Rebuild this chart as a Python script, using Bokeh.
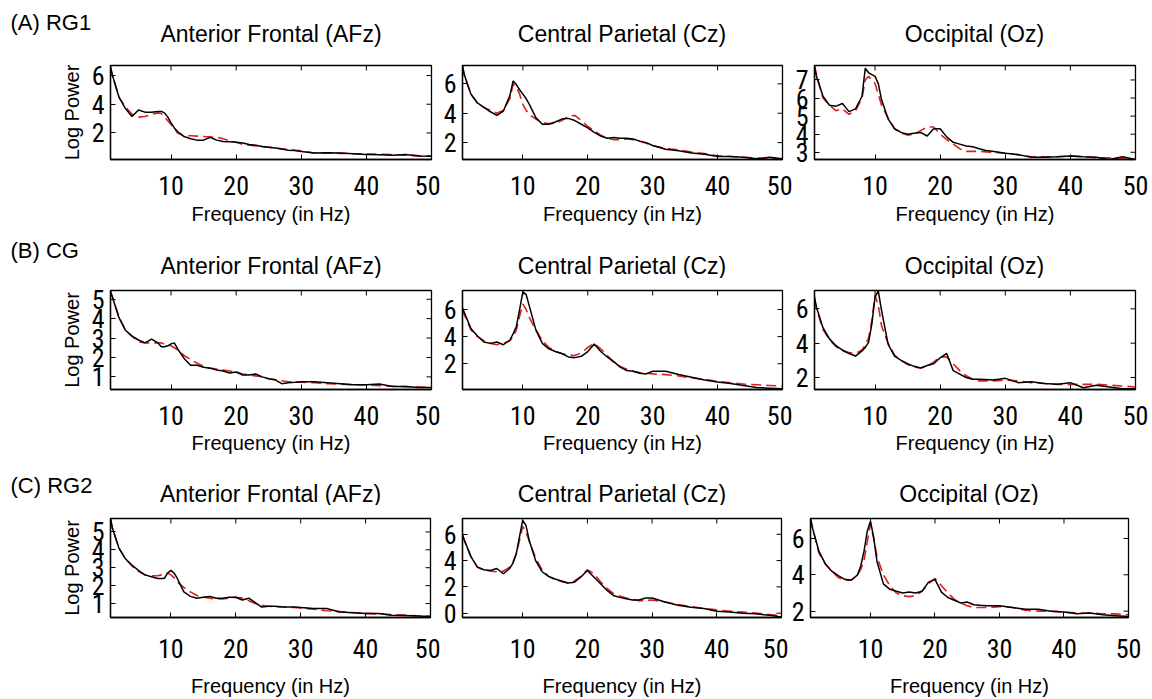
import math
from bokeh.plotting import figure
from bokeh.models import Range1d, FixedTicker, Label
from bokeh.layouts import column, row
from bokeh.embed import file_html
from bokeh.resources import INLINE

# ---------------- data ----------------
FREQ = [0.7, 1, 2, 3, 4, 5, 6, 7, 8, 8.5, 9, 9.5, 10, 10.5, 11, 12, 13, 14, 15, 16, 17, 18, 19, 20,
        21, 22, 23, 24, 25, 26, 27, 28, 29, 30, 32, 34, 36, 38, 40, 42, 44, 46, 48, 50]
X_LIMITS = (0.7, 50)
X_TICKS = [10, 20, 30, 40, 50]

GROUPS = ["(A) RG1", "(B) CG", "(C) RG2"]
SITES = ["Anterior Frontal (AFz)", "Central Parietal (Cz)", "Occipital (Oz)"]

# RG1
rg1_afz_obs = [6.6, 6.0, 4.5, 3.7, 3.15, 3.6, 3.45, 3.45, 3.5, 3.5, 3.4, 3.1, 2.7, 2.35, 2.1, 1.75, 1.6, 1.5, 1.5, 1.7,
               1.5, 1.4, 1.38, 1.35, 1.3, 1.2, 1.15, 1.05, 1.0, 0.95, 0.88, 0.8, 0.78, 0.7, 0.6, 0.62, 0.6, 0.55,
               0.5, 0.48, 0.45, 0.5, 0.4, 0.38]
rg1_afz_fit = [6.6, 6.0, 4.5, 3.8, 3.3, 3.1, 3.15, 3.3, 3.4, 3.35, 3.1, 2.85, 2.6, 2.3, 2.0, 1.8, 1.8, 1.78, 1.75,
               1.72, 1.7, 1.6, 1.45, 1.35, 1.2, 1.15, 1.1, 1.05, 1.0, 0.95, 0.9, 0.85, 0.8, 0.75, 0.6, 0.6, 0.58,
               0.55, 0.55, 0.52, 0.5, 0.45, 0.42, 0.4]
rg1_cz_obs = [7.2, 6.6, 5.3, 4.7, 4.4, 4.1, 3.85, 4.15, 5.2, 6.2, 5.95, 5.6, 5.3, 5.0, 4.6, 3.7, 3.25, 3.25, 3.4, 3.6,
              3.65, 3.5, 3.25, 3.0, 2.7, 2.45, 2.3, 2.35, 2.3, 2.3, 2.25, 2.1, 2.0, 1.8, 1.55, 1.45, 1.3, 1.2, 1.05,
              1.05, 1.0, 0.9, 1.0, 0.9]
rg1_cz_fit = [7.2, 6.5, 5.3, 4.7, 4.4, 4.2, 4.0, 4.2, 5.0, 6.0, 5.8, 5.3, 4.6, 4.2, 3.9, 3.6, 3.35, 3.3, 3.3, 3.5,
              3.8, 3.85, 3.5, 3.1, 2.8, 2.5, 2.3, 2.2, 2.2, 2.25, 2.2, 2.1, 1.95, 1.8, 1.6, 1.5, 1.35, 1.25, 1.1,
              1.05, 1.0, 0.95, 0.9, 0.9]
rg1_oz_obs = [7.75, 7.2, 6.1, 5.6, 5.55, 5.7, 5.25, 5.4, 6.1, 7.65, 7.4, 7.3, 7.2, 6.8, 5.9, 4.85, 4.3, 4.1, 4.0,
              4.05, 4.1, 3.9, 4.3, 4.3, 3.85, 3.55, 3.45, 3.35, 3.3, 3.2, 3.1, 3.05, 3.0, 2.95, 2.87, 2.72, 2.72,
              2.75, 2.8, 2.75, 2.72, 2.6, 2.75, 2.6]
rg1_oz_fit = [7.8, 7.3, 6.0, 5.6, 5.3, 5.4, 5.1, 5.3, 6.0, 7.0, 7.2, 7.0, 6.8, 6.2, 5.6, 4.9, 4.3, 4.05, 3.95, 4.0,
              4.2, 4.4, 4.4, 4.0, 3.7, 3.45, 3.2, 3.05, 3.05, 3.05, 3.02, 3.0, 2.98, 2.95, 2.85, 2.75, 2.75, 2.75,
              2.8, 2.75, 2.7, 2.7, 2.65, 2.6]
# CG
cg_afz_obs = [5.4, 5.1, 4.05, 3.4, 3.1, 2.9, 2.75, 2.95, 2.75, 2.55, 2.55, 2.6, 2.7, 2.75, 2.45, 1.95, 1.6, 1.6, 1.5,
              1.45, 1.35, 1.3, 1.2, 1.25, 1.1, 1.1, 1.15, 1.0, 0.9, 0.85, 0.65, 0.7, 0.72, 0.75, 0.75, 0.7, 0.65,
              0.6, 0.6, 0.63, 0.5, 0.5, 0.45, 0.45]
cg_afz_fit = [5.4, 5.1, 4.1, 3.4, 3.1, 2.8, 2.75, 2.75, 2.75, 2.75, 2.7, 2.65, 2.6, 2.5, 2.4, 2.1, 1.9, 1.7, 1.55,
              1.45, 1.4, 1.35, 1.3, 1.25, 1.15, 1.1, 1.05, 1.0, 0.9, 0.85, 0.8, 0.75, 0.73, 0.72, 0.7, 0.65, 0.62,
              0.6, 0.58, 0.55, 0.52, 0.5, 0.48, 0.45]
cg_cz_obs = [6.1, 5.75, 4.6, 4.05, 3.6, 3.5, 3.6, 3.4, 3.75, 4.2, 4.75, 6.0, 7.3, 7.1, 6.25, 4.5, 3.5, 3.1, 2.9,
             2.75, 2.5, 2.45, 2.55, 2.9, 3.45, 2.9, 2.5, 2.15, 1.75, 1.5, 1.45, 1.3, 1.25, 1.45, 1.45, 1.2, 1.0,
             0.8, 0.65, 0.55, 0.4, 0.25, 0.2, 0.15]
cg_cz_fit = [6.0, 5.6, 4.5, 4.0, 3.7, 3.5, 3.4, 3.5, 3.7, 4.0, 4.5, 5.5, 6.4, 6.0, 5.4, 4.5, 3.7, 3.2, 2.9, 2.75,
             2.65, 2.6, 2.8, 3.2, 3.5, 3.1, 2.6, 2.1, 1.8, 1.6, 1.45, 1.35, 1.3, 1.25, 1.2, 1.1, 0.95, 0.85, 0.7,
             0.6, 0.5, 0.45, 0.4, 0.35]
cg_oz_obs = [6.7, 6.1, 4.9, 4.25, 3.85, 3.6, 3.4, 3.25, 3.55, 3.75, 4.05, 5.1, 6.7, 7.05, 5.9, 3.95, 3.25, 3.0, 2.8,
             2.65, 2.55, 2.7, 2.8, 3.15, 3.4, 2.4, 2.2, 2.0, 1.9, 1.9, 1.88, 1.85, 1.9, 1.95, 1.7, 1.75, 1.65, 1.6,
             1.7, 1.4, 1.55, 1.45, 1.35, 1.35]
cg_oz_fit = [6.5, 6.0, 4.8, 4.2, 3.8, 3.55, 3.45, 3.4, 3.6, 3.9, 4.3, 5.3, 6.8, 6.2, 5.0, 4.0, 3.3, 3.0, 2.75, 2.6,
             2.55, 2.65, 2.9, 3.2, 3.2, 2.8, 2.4, 2.1, 1.9, 1.8, 1.8, 1.8, 1.82, 1.85, 1.8, 1.7, 1.65, 1.6, 1.6,
             1.6, 1.6, 1.55, 1.5, 1.45]
# RG2
rg2_afz_obs = [5.75, 5.2, 4.1, 3.5, 3.15, 2.85, 2.6, 2.5, 2.4, 2.4, 2.4, 2.7, 2.85, 2.7, 2.4, 1.65, 1.4, 1.3, 1.35,
               1.4, 1.3, 1.3, 1.35, 1.35, 1.2, 1.3, 1.05, 0.8, 0.85, 0.85, 0.82, 0.8, 0.8, 0.78, 0.72, 0.72, 0.53,
               0.48, 0.45, 0.45, 0.35, 0.33, 0.3, 0.28]
rg2_afz_fit = [5.7, 5.2, 4.1, 3.5, 3.1, 2.8, 2.6, 2.55, 2.55, 2.6, 2.65, 2.7, 2.6, 2.45, 2.2, 1.9, 1.65, 1.45, 1.35,
               1.3, 1.25, 1.25, 1.3, 1.35, 1.3, 1.15, 1.0, 0.9, 0.85, 0.82, 0.81, 0.8, 0.78, 0.75, 0.68, 0.6, 0.55,
               0.5, 0.45, 0.42, 0.38, 0.35, 0.32, 0.3]
rg2_cz_obs = [5.95, 5.55, 4.3, 3.5, 3.3, 3.25, 3.4, 3.0, 3.4, 3.8, 4.5, 5.8, 7.05, 6.7, 5.55, 4.0, 3.15, 2.8, 2.6,
              2.45, 2.3, 2.35, 2.75, 3.25, 2.75, 2.25, 1.75, 1.35, 1.2, 1.1, 1.0, 1.0, 1.15, 1.15, 0.85, 0.6, 0.45,
              0.35, 0.15, 0.08, 0.0, -0.05, -0.15, -0.3]
rg2_cz_fit = [5.9, 5.5, 4.3, 3.5, 3.3, 3.2, 3.15, 3.2, 3.5, 3.9, 4.5, 5.5, 6.6, 6.2, 5.5, 4.2, 3.3, 2.8, 2.55, 2.4,
              2.3, 2.45, 2.8, 3.3, 3.0, 2.4, 1.9, 1.5, 1.3, 1.15, 1.05, 0.95, 0.95, 1.0, 0.85, 0.65, 0.5, 0.35,
              0.25, 0.15, 0.08, 0.0, -0.1, -0.2]
rg2_oz_obs = [7.1, 6.6, 5.3, 4.6, 4.2, 3.95, 3.75, 3.7, 4.0, 4.5, 5.3, 6.4, 6.95, 6.05, 4.75, 3.5, 3.2, 3.1, 3.0,
              3.05, 3.0, 3.1, 3.6, 3.75, 3.05, 2.75, 2.6, 2.45, 2.5, 2.35, 2.32, 2.3, 2.3, 2.3, 2.2, 2.1, 2.1, 2.0,
              1.95, 1.85, 1.9, 1.8, 1.75, 1.7]
rg2_oz_fit = [7.1, 6.6, 5.2, 4.6, 4.2, 3.85, 3.7, 3.7, 4.0, 4.3, 4.8, 5.8, 6.8, 6.0, 5.0, 4.0, 3.4, 3.0, 2.85, 2.8,
              2.85, 3.1, 3.5, 3.8, 3.4, 3.0, 2.65, 2.45, 2.3, 2.2, 2.2, 2.2, 2.22, 2.25, 2.2, 2.05, 2.0, 2.0, 1.95,
              1.9, 1.9, 1.85, 1.85, 1.8]

OBS = [[rg1_afz_obs, rg1_cz_obs, rg1_oz_obs],
       [cg_afz_obs, cg_cz_obs, cg_oz_obs],
       [rg2_afz_obs, rg2_cz_obs, rg2_oz_obs]]
FIT = [[rg1_afz_fit, rg1_cz_fit, rg1_oz_fit],
       [cg_afz_fit, cg_cz_fit, cg_oz_fit],
       [rg2_afz_fit, rg2_cz_fit, rg2_oz_fit]]

Y_LIMITS = [[(0.15, 6.7), (0.85, 7.25), (2.6, 7.8)],
            [(0.35, 5.45), (0.1, 7.4), (1.3, 7.07)],
            [(0.22, 5.75), (-0.33, 7.2), (1.65, 7.1)]]
Y_TICKS = [[[2, 4, 6], [2, 4, 6], [3, 4, 5, 6, 7]],
           [[1, 2, 3, 4, 5], [2, 4, 6], [2, 4, 6]],
           [[1, 2, 3, 4, 5], [0, 2, 4, 6], [2, 4, 6]]]

# ---------------- layout / style ----------------
TICK_FONT = "'Liberation Sans Narrow', 'Roboto Condensed', 'DejaVu Sans Condensed', 'Liberation Sans', sans-serif"
TEXT_FONT = "Liberation Sans"
RED = "#e0201e"
TOTAL_W = 1150

# per row geometry (pixels)
HEADER_H = [50, 42, 42]
ROW_BT = [15, 12, 13]
FRAME_H = [94, 99, 99]
ROW_BB = [77, 74, 82]
ROW_LABEL_Y = [22, 14, 22]
TITLE_Y = [33, 29, 30]
XTICK_STANDOFF = [16, 16, 21]
XLABEL_STANDOFF = [5, 4, 14]
FRAME_L = [[110, 461, 813], [110, 461, 813], [110, 462, 809]]
FRAME_W = [[321, 321, 322], [321, 321, 322], [320, 319, 319]]
CUTS = [[0, 440, 792, TOTAL_W], [0, 440, 792, TOTAL_W], [0, 440, 788, TOTAL_W]]


def make_header(r):
    h = HEADER_H[r]
    p = figure(width=TOTAL_W, height=h, output_backend="svg", toolbar_location=None,
               x_range=Range1d(0, TOTAL_W), y_range=Range1d(h, 0), min_border=0)
    p.axis.visible = False
    p.grid.visible = False
    p.outline_line_color = None
    p.add_layout(Label(x=10, y=ROW_LABEL_Y[r], text=GROUPS[r], text_font=TEXT_FONT,
                       text_font_size="22px", text_baseline="middle", text_align="left",
                       text_color="black"))
    for c in range(3):
        cx = FRAME_L[r][c] + FRAME_W[r][c] / 2
        p.add_layout(Label(x=cx, y=TITLE_Y[r], text=SITES[c], text_font=TEXT_FONT,
                           text_font_size="23px", text_baseline="middle", text_align="center",
                           text_color="black"))
    return p


def make_panel(r, c):
    bl = FRAME_L[r][c] - CUTS[r][c]
    br = CUTS[r][c + 1] - (FRAME_L[r][c] + FRAME_W[r][c])
    w = CUTS[r][c + 1] - CUTS[r][c]
    h = ROW_BT[r] + FRAME_H[r] + ROW_BB[r]
    ylo, yhi = Y_LIMITS[r][c]
    p = figure(width=w, height=h, output_backend="svg", toolbar_location=None,
               x_range=Range1d(*X_LIMITS), y_range=Range1d(ylo, yhi),
               min_border_left=bl, min_border_right=br,
               min_border_top=ROW_BT[r], min_border_bottom=ROW_BB[r])
    p.xgrid.visible = False
    p.ygrid.visible = False
    p.outline_line_color = "black"
    p.outline_line_width = 1.3
    p.background_fill_color = "white"
    p.border_fill_color = "white"

    p.line(FREQ, FIT[r][c], line_color=RED, line_width=1.6, line_dash="10 5")
    p.line(FREQ, OBS[r][c], line_color="black", line_width=1.5)

    for ax in (p.xaxis[0], p.yaxis[0]):
        ax.major_tick_in = 5
        ax.major_tick_out = 0
        ax.minor_tick_in = 0
        ax.minor_tick_out = 0
        ax.axis_line_color = "black"
        ax.axis_line_width = 1.3
        ax.major_tick_line_color = "black"
        ax.major_label_text_font = TICK_FONT
        ax.major_label_text_font_size = "26px"
        ax.major_label_text_color = "black"
        ax.axis_label_text_font = TEXT_FONT
        ax.axis_label_text_font_size = "20px"
        ax.axis_label_text_font_style = "normal"
        ax.axis_label_text_color = "black"
    p.xaxis[0].ticker = FixedTicker(ticks=X_TICKS)
    p.yaxis[0].ticker = FixedTicker(ticks=Y_TICKS[r][c])
    p.xaxis[0].major_label_standoff = XTICK_STANDOFF[r]
    p.yaxis[0].major_label_standoff = 6
    p.xaxis[0].axis_label = "Frequency (in Hz)"
    p.xaxis[0].axis_label_standoff = XLABEL_STANDOFF[r]
    if c == 0:
        p.yaxis[0].axis_label = "Log Power"
        p.yaxis[0].axis_label_standoff = 6

    # mirrored inward tick marks on the top and right edges of the box
    xt = X_TICKS
    yt = Y_TICKS[r][c]
    p.ray(x=xt, y=[yhi] * len(xt), length=5, length_units="screen",
          angle=-math.pi / 2, line_color="black", line_width=1)
    p.ray(x=[X_LIMITS[1]] * len(yt), y=yt, length=5, length_units="screen",
          angle=math.pi, line_color="black", line_width=1)
    return p


blocks = []
for r in range(3):
    blocks.append(make_header(r))
    blocks.append(row(*[make_panel(r, c) for c in range(3)]))
layout = column(*blocks)

open("out.html", "w").write(file_html(layout, INLINE, "EEG log power spectra"))
